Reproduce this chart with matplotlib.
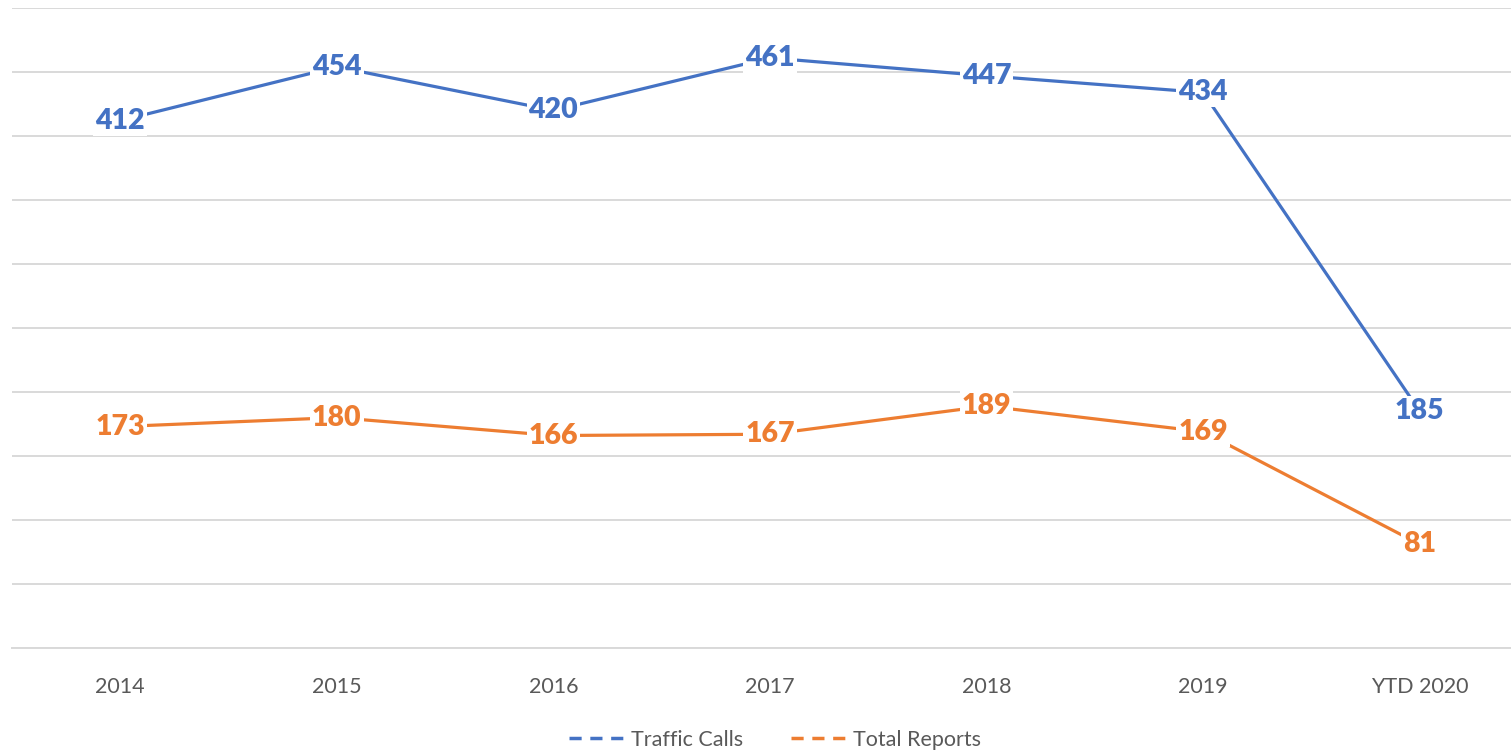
import matplotlib.pyplot as plt
from matplotlib.lines import Line2D

# Chart data
years = ["2014", "2015", "2016", "2017", "2018", "2019", "YTD 2020"]
traffic_calls = [412, 454, 420, 461, 447, 434, 185]
total_reports = [173, 180, 166, 167, 189, 169, 81]

blue = "#4472C4"
orange = "#ED7D31"
grid_col = "#D9D9D9"
text_col = "#595959"

plt.rcParams['font.family'] = ['Lato', 'DejaVu Sans']

fig = plt.figure(figsize=(15.11, 7.5), dpi=100)
ax = fig.add_axes([12 / 1511, 102 / 750, 1516 / 1511, 640 / 750])

x = list(range(len(years)))
for vals, col in [(traffic_calls, blue), (total_reports, orange)]:
    ax.plot(x, vals, color=col, lw=2.3, solid_capstyle='round', zorder=2)
    for xi, v in zip(x, vals):
        ax.text(xi, v, str(v), color=col, fontsize=20.5, fontweight='heavy',
                ha='center', va='center', zorder=3,
                bbox=dict(facecolor='white', edgecolor='none', pad=1.5))

ax.set_xlim(-0.5, 6.5)
ax.set_ylim(0, 500)
ax.set_yticks(range(0, 501, 50))
ax.yaxis.grid(True, color=grid_col, lw=1.4)
ax.set_axisbelow(True)
ax.tick_params(axis='y', left=False, labelleft=False)
ax.set_xticks(x)
ax.set_xticklabels(years, color=text_col, fontsize=15.5)
ax.tick_params(axis='x', length=0, pad=21)
for s in ['top', 'right', 'left']:
    ax.spines[s].set_visible(False)
ax.spines['bottom'].set_color(grid_col)
ax.spines['bottom'].set_linewidth(1.4)

handles = [Line2D([], [], color=blue, lw=2.5, linestyle=(0, (3.5, 2.5))),
           Line2D([], [], color=orange, lw=2.5, linestyle=(0, (3.5, 2.5)))]
fig.legend(handles, ["Traffic Calls", "Total Reports"], loc='center',
           bbox_to_anchor=(775 / 1511, 1 - 740 / 750), ncol=2, frameon=False,
           fontsize=15.5, labelcolor=text_col, handlelength=2.6, handletextpad=0.3,
           columnspacing=2.2)

fig.savefig("out.png", dpi=100, facecolor='white')
